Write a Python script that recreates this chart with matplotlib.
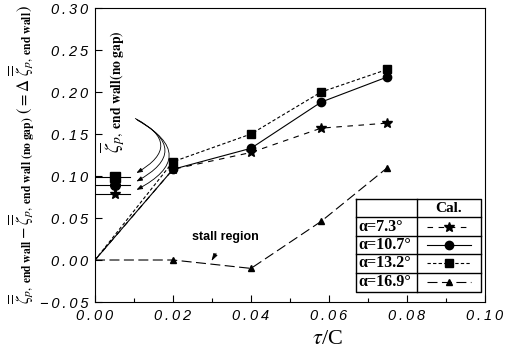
import matplotlib
matplotlib.use("Agg")
import matplotlib.pyplot as plt
from matplotlib.patches import FancyArrowPatch
from matplotlib.ticker import MultipleLocator

plt.rcParams['mathtext.fontset'] = 'stix'

# data
tau = [0.0, 0.02, 0.04, 0.058, 0.075]
z_73 = [0.0, 0.108, 0.128, 0.157, 0.163]
z_107 = [0.0, 0.108, 0.133, 0.188, 0.218]
z_132 = [0.0, 0.117, 0.150, 0.200, 0.227]
z_169 = [0.0, 0.0, -0.010, 0.046, 0.110]

# end wall loss without gap (reference values)
nogap_x = 0.005
nogap_73 = 0.079
nogap_107 = 0.089
nogap_132 = 0.099

labels = ['α=7.3°', 'α=10.7°', 'α=13.2°', 'α=16.9°']
markers = ['*', 'o', 's', '^']
styles = [(0, (5, 5)), '-', (0, (3, 2)), (0, (9, 4))]
msizes = [7, 6, 5.5, 5]

fig = plt.figure(figsize=(5.07, 3.51), dpi=100)
ax = fig.add_axes([0.1874, 0.1396, 0.769, 0.8375])

series = [z_73, z_107, z_132, z_169]
for ys, m, ls, ms in zip(series, markers, styles, msizes):
    ax.plot(tau, ys, color='black', lw=0.8, linestyle=ls, marker=m,
            markersize=ms, markevery=[1, 2, 3, 4])

# no-gap reference markers with short horizontal lines
for v, m, ms in zip([nogap_73, nogap_107, nogap_132], markers[:3], msizes[:3]):
    ax.plot([0.0, 0.009], [v, v], color='black', lw=0.8)
    ax.plot([nogap_x], [v], color='black', marker=m, markersize=ms + 1)

# rotated label for the no-gap values and curved arrows
ax.text(0.0040, 0.200, r'$\overline{\overline{\zeta}}_{p,\ \mathbf{end\ wall(no\ gap)}}$',
        rotation=90, ha='center', va='center', fontsize=14)
for (sx, sy), ey in zip([(0.0097, 0.170), (0.0100, 0.169), (0.0103, 0.168)],
                        [nogap_132 + 0.003, nogap_107 + 0.003, nogap_73 + 0.003]):
    ax.add_patch(FancyArrowPatch((sx, sy), (0.0100, ey),
                                 connectionstyle='arc3,rad=-0.95',
                                 arrowstyle='-|>,head_length=3.5,head_width=1.3',
                                 color='black', lw=0.6))

# stall region note
ax.annotate('stall region', xy=(0.0295, -0.004), xytext=(0.0335, 0.027),
            ha='center', va='center', fontsize=9, fontweight='bold',
            family='Liberation Sans',
            arrowprops=dict(arrowstyle='-|>,head_length=0.5,head_width=0.15',
                            color='black', lw=0.6, shrinkA=6))

ax.set_xlim(0.0, 0.10)
ax.set_ylim(-0.05, 0.30)
ax.xaxis.set_major_locator(MultipleLocator(0.02))
ax.xaxis.set_minor_locator(MultipleLocator(0.01))
ax.yaxis.set_major_locator(MultipleLocator(0.05))
ax.tick_params(direction='in', length=5, width=0.8, labelsize=10.5, pad=5)
ax.tick_params(which='minor', direction='in', length=3, width=0.8)


def spaced(v):
    return '\u2009'.join(f'{v:.2f}'.replace('-', '\u2212'))


ax.set_xticks(ax.get_xticks())
ax.set_yticks(ax.get_yticks())
ax.set_xticklabels([spaced(v) for v in ax.get_xticks()])
ax.set_yticklabels([spaced(v) for v in ax.get_yticks()])
ax.set_xlim(0.0, 0.10)
ax.set_ylim(-0.05, 0.30)
for lab in ax.get_xticklabels() + ax.get_yticklabels():
    lab.set_fontstyle('italic')
    lab.set_family(['Liberation Sans', 'DejaVu Sans'])
for sp in ax.spines.values():
    sp.set_linewidth(0.8)

ax.set_xlabel(r'$\tau$/C', fontsize=16, family='Liberation Serif')
ax.xaxis.set_label_coords(0.595, -0.095)
ax.set_ylabel(r'$\overline{\overline{\zeta}}_{p,\ \mathbf{end\ wall}} - '
              r'\overline{\overline{\zeta}}_{p,\ \mathbf{end\ wall\ (no\ gap)}}\ '
              r'(=\Delta\ \overline{\overline{\zeta}}_{p,\ \mathbf{end\ wall}})$',
              fontsize=12, labelpad=2)

# legend drawn as a small table
tx0, tx1, tdiv = 0.669, 0.990, 0.826
rows_y = [0.350, 0.289, 0.224, 0.163, 0.099, 0.034]
tr = ax.transAxes
ax.plot([tx0, tx1, tx1, tx0, tx0], [rows_y[0], rows_y[0], rows_y[-1], rows_y[-1], rows_y[0]],
        color='black', lw=1.0, transform=tr, clip_on=False)
ax.plot([tdiv, tdiv], [rows_y[0], rows_y[-1]], color='black', lw=1.0, transform=tr)
for yy in rows_y[1:-1]:
    ax.plot([tx0, tx1], [yy, yy], color='black', lw=1.0, transform=tr)
ax.text((tdiv + tx1) / 2, (rows_y[0] + rows_y[1]) / 2, 'Cal.', transform=tr,
        ha='center', va='center', fontsize=11, fontweight='bold', family='Liberation Serif')
for i, (lab, m, ls, ms) in enumerate(zip(labels, markers, styles, msizes)):
    yc = (rows_y[i + 1] + rows_y[i + 2]) / 2
    ax.text(tx0 + 0.006, yc, lab, transform=tr, ha='left', va='center',
            fontsize=11.5, fontweight='bold', family='Liberation Serif')
    ax.plot([tdiv + 0.025, tx1 - 0.025], [yc, yc], transform=tr, color='black',
            lw=0.8, linestyle=ls)
    ax.plot([(tdiv + tx1) / 2], [yc], transform=tr, color='black', marker=m, markersize=ms)

fig.savefig('out.png', dpi=100)
